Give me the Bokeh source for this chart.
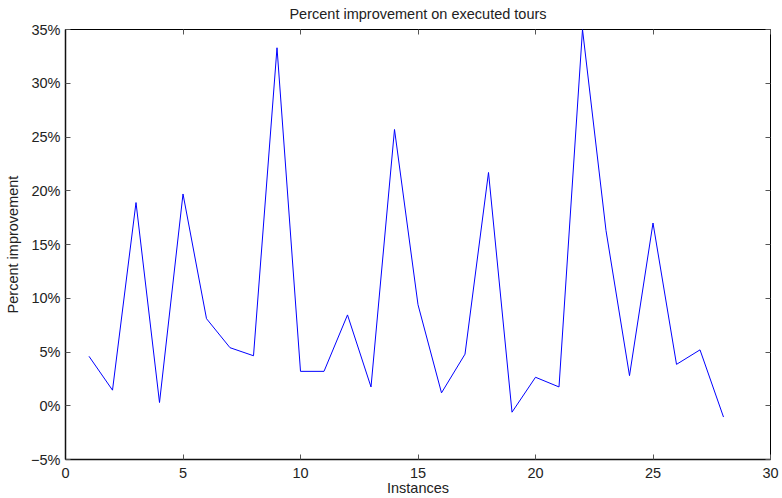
from bokeh.plotting import figure
from bokeh.models import Range1d, LinearAxis, FixedTicker
from bokeh.embed import file_html
from bokeh.resources import INLINE

instances = list(range(1, 29))
improvement = [4.6, 1.45, 18.9, 0.3, 19.7, 8.1, 5.4, 4.65, 33.3, 3.2,
               3.2, 8.45, 1.75, 25.7, 9.4, 1.2, 4.8, 21.7, -0.6, 2.65,
               1.75, 35.0, 16.3, 2.8, 17.0, 3.85, 5.2, -1.05]
x_ticks = [0, 5, 10, 15, 20, 25, 30]
y_ticks = [-5, 0, 5, 10, 15, 20, 25, 30, 35]
y_tick_labels = {v: (("\u2212%d%%" % -v) if v < 0 else ("%d%%" % v)) for v in y_ticks}

FONT = "Liberation Sans"
FS = "14.5px"

p = figure(width=782, height=498, output_backend="svg", toolbar_location=None,
           x_range=Range1d(0, 30), y_range=Range1d(-5, 35),
           title="Percent improvement on executed tours",
           min_border_left=65, min_border_right=12, min_border_top=29, min_border_bottom=38)
p.title.align = "center"
p.title.vertical_align = "top"
p.title.text_font = FONT
p.title.text_font_size = FS
p.title.text_font_style = "normal"
p.title.text_color = "#222222"
p.title.standoff = 11

p.grid.visible = False
p.outline_line_color = "black"
p.outline_line_width = 1
p.background_fill_color = "white"
p.border_fill_color = "white"

for ax in (p.xaxis[0], p.yaxis[0]):
    ax.major_tick_in = 5
    ax.major_tick_out = 0
    ax.minor_tick_in = 0
    ax.minor_tick_out = 0
    ax.axis_line_width = 1.5
    ax.axis_line_color = "#111111"
    ax.major_tick_line_color = "#555555"
    ax.major_label_text_font = FONT
    ax.major_label_text_font_size = FS
    ax.major_label_text_color = "#222222"
    ax.axis_label_text_font = FONT
    ax.axis_label_text_font_size = FS
    ax.axis_label_text_font_style = "normal"
    ax.axis_label_text_color = "#222222"

p.xaxis[0].ticker = FixedTicker(ticks=x_ticks)
p.yaxis[0].ticker = FixedTicker(ticks=y_ticks)
p.yaxis[0].major_label_overrides = y_tick_labels
p.xaxis[0].axis_label = "Instances"
p.yaxis[0].axis_label = "Percent improvement"
p.xaxis[0].major_label_standoff = 8
p.xaxis[0].axis_label_standoff = -1
p.yaxis[0].major_label_standoff = 5
p.yaxis[0].axis_label_standoff = 7

# mirrored inward ticks on the top and right edges (minor ticks carry no labels)
top = LinearAxis(ticker=FixedTicker(ticks=[], minor_ticks=x_ticks), major_tick_in=0, major_tick_out=0,
                 minor_tick_in=5, minor_tick_out=0, major_label_standoff=0,
                 axis_line_color=None, minor_tick_line_color="#555555")
right = LinearAxis(ticker=FixedTicker(ticks=[], minor_ticks=y_ticks), major_tick_in=0, major_tick_out=0,
                   minor_tick_in=5, minor_tick_out=0, major_label_standoff=0,
                   axis_line_color=None, minor_tick_line_color="#555555")
p.add_layout(top, "above")
p.add_layout(right, "right")

p.line(instances, improvement, line_color="#0000ff", line_width=1)

open("out.html", "w").write(file_html(p, INLINE))
